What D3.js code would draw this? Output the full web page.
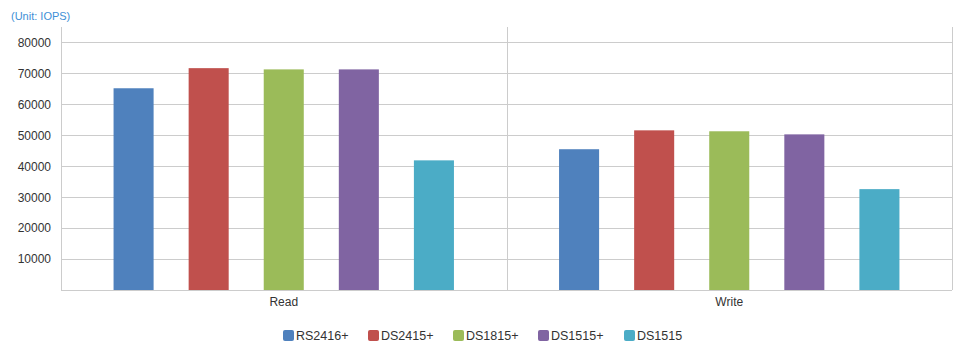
<!DOCTYPE html>
<html><head><meta charset="utf-8">
<script src="https://cdn.jsdelivr.net/npm/d3@7"></script>
<style>body{margin:0;background:#fff;} text{font-family:"Liberation Sans",Arial,sans-serif;}</style>
</head><body>
<svg id="chart" width="971" height="356"></svg>
<script>
const categories = ["Read", "Write"];
const seriesNames = ["RS2416+", "DS2415+", "DS1815+", "DS1515+", "DS1515"];
const readValues = [65200, 71700, 71300, 71300, 41900];
const writeValues = [45500, 51600, 51300, 50300, 32600];
const yTicks = [10000, 20000, 30000, 40000, 50000, 60000, 70000, 80000];
const colors = ["#4F81BD", "#C0504D", "#9BBB59", "#8064A2", "#4BACC6"];

(function () {
const values = [readValues, writeValues];
const svg = d3.select("#chart");
const mLeft = 61, mRight = 952, mTop = 27, mBottom = 290;

const x = d3.scaleBand().domain(categories).range([mLeft, mRight]);
const xs = d3.scaleBand().domain(seriesNames).range([0, x.bandwidth()]).paddingInner(0.4667).paddingOuter(0.70);
const y = d3.scaleLinear().domain([0, 85000]).range([mBottom, mTop]);

// gridlines
svg.append("g").selectAll("line").data(yTicks).join("line")
  .attr("x1", mLeft).attr("x2", mRight)
  .attr("y1", d => Math.round(y(d)) + 0.5).attr("y2", d => Math.round(y(d)) + 0.5)
  .attr("stroke", "#cccccc").attr("stroke-width", 1);

// y axis labels
const yAxis = d3.axisLeft(y).tickValues(yTicks).tickSize(0).tickPadding(10).tickFormat(d3.format("d"));
const ya = svg.append("g").attr("transform", `translate(${mLeft},0)`).call(yAxis);
ya.select(".domain").remove();
ya.selectAll("text").attr("fill", "#333").attr("font-size", 12).attr("font-family", "Liberation Sans, Arial, sans-serif");

// bars
categories.forEach((c, ci) => {
  svg.append("g").selectAll("rect").data(values[ci]).join("rect")
    .attr("x", (d, i) => x(c) + xs(seriesNames[i]))
    .attr("width", xs.bandwidth())
    .attr("y", d => y(d))
    .attr("height", d => mBottom - y(d))
    .attr("fill", (d, i) => colors[i]);
});

// frame lines: left axis, category dividers, baseline
const dividers = [mLeft, ...categories.map(c => x(c) + x.bandwidth())];
svg.append("g").selectAll("line").data(dividers).join("line")
  .attr("x1", d => Math.round(d) + 0.5).attr("x2", d => Math.round(d) + 0.5)
  .attr("y1", mTop).attr("y2", mBottom)
  .attr("stroke", "#cccccc");
svg.append("line").attr("x1", mLeft).attr("x2", mRight)
  .attr("y1", mBottom + 0.5).attr("y2", mBottom + 0.5).attr("stroke", "#cccccc");

// x axis labels
const xAxis = d3.axisBottom(x).tickSize(0).tickPadding(7);
const xa = svg.append("g").attr("transform", `translate(0,${mBottom})`).call(xAxis);
xa.select(".domain").remove();
xa.selectAll("text").attr("fill", "#333").attr("font-size", 12).attr("font-family", "Liberation Sans, Arial, sans-serif");

// unit label
svg.append("text").attr("x", 11).attr("y", 20).attr("font-size", 11).attr("fill", "#3d8fd6").text("(Unit: IOPS)");

// legend
const legendX = [283, 368, 453, 538, 624];
const lg = svg.append("g").selectAll("g").data(seriesNames).join("g")
  .attr("transform", (d, i) => `translate(${legendX[i]},330)`);
lg.append("rect").attr("width", 11).attr("height", 11).attr("rx", 2).attr("fill", (d, i) => colors[i]);
lg.append("text").attr("x", 13).attr("y", 10).attr("font-size", 12.5).attr("fill", "#333").text(d => d);
})();
</script>
</body></html>
